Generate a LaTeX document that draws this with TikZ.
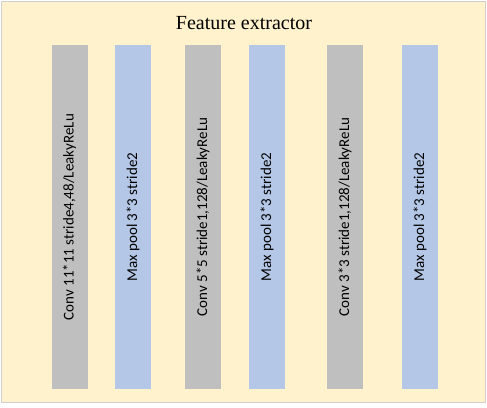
\documentclass[tikz,border=0pt]{standalone}
\usepackage{fontspec}
\setmainfont{Liberation Serif}
\newfontfamily\layerfont{Carlito}

\definecolor{bgyellow}{HTML}{FFF2CC}
\definecolor{framegray}{HTML}{D0CECE}
\definecolor{convgray}{HTML}{BFBFBF}
\definecolor{poolblue}{HTML}{B4C7E7}

\begin{document}
\begin{tikzpicture}[x=1pt,y=-1pt,
  layer/.style={rotate=90, minimum width=344pt, minimum height=36pt,
    inner sep=0pt, font=\layerfont\fontsize{15}{18}\selectfont},
  convlayer/.style={layer, fill=convgray},
  poollayer/.style={layer, fill=poolblue}]

\useasboundingbox (0,0) rectangle (487,407);

% background panel
\draw[framegray, fill=bgyellow] (1,1) rectangle (485,402);

% title
\node[font=\fontsize{20}{24}\selectfont] (title) at (244,23) {Feature extractor};

% first block
\node[convlayer] (conv1) at (69.5,217) {Conv 11*11 stride4,48/LeakyReLu};
\node[poollayer] (pool1) at (133,217) {Max pool 3*3 stride2};

% second block
\node[convlayer] (conv2) at (203,217) {Conv 5*5 stride1,128/LeakyReLu};
\node[poollayer] (pool2) at (267,217) {Max pool 3*3 stride2};

% third block
\node[convlayer] (conv3) at (345,217) {Conv 3*3 stride1,128/LeakyReLu};
\node[poollayer] (pool3) at (420,217) {Max pool 3*3 stride2};

\end{tikzpicture}
\end{document}
